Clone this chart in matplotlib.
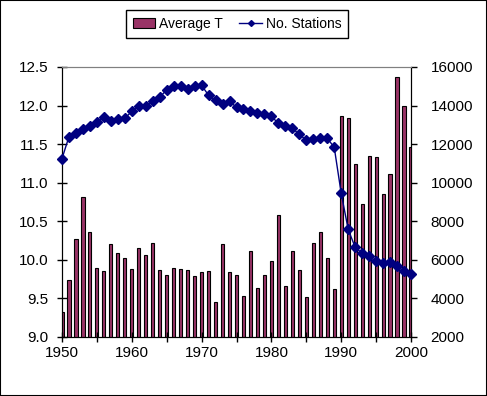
import numpy as np
import matplotlib
matplotlib.use("Agg")
import matplotlib.pyplot as plt
from matplotlib.patches import Rectangle
from matplotlib.lines import Line2D

plt.rcParams['font.family'] = ['Liberation Sans', 'DejaVu Sans']

years = np.arange(1950, 2001)

avg_t = [9.32, 9.74, 10.27, 10.81, 10.36, 9.90, 9.85, 10.20, 10.09, 10.02,
         9.88, 10.15, 10.06, 10.22, 9.87, 9.80, 9.89, 9.88, 9.87, 9.79,
         9.84, 9.85, 9.45, 10.21, 9.84, 9.81, 9.53, 10.12, 9.63, 9.81,
         9.99, 10.58, 9.66, 10.11, 9.87, 9.52, 10.22, 10.36, 10.02, 9.62,
         11.86, 11.84, 11.24, 10.72, 11.34, 11.33, 10.86, 11.11, 12.37, 11.99,
         11.46]

stations = [11250, 12390, 12590, 12770, 12930, 13130, 13390, 13180, 13290, 13340,
            13700, 13960, 14000, 14220, 14430, 14820, 15000, 15000, 14880, 15000,
            15050, 14530, 14270, 14070, 14220, 13910, 13810, 13700, 13600, 13550,
            13440, 13080, 12930, 12820, 12510, 12200, 12250, 12300, 12300, 11840,
            9450, 7580, 6650, 6340, 6180, 5920, 5820, 5870, 5670, 5410,
            5250]

bar_col = "#993366"
line_col = "#000080"

fig = plt.figure(figsize=(4.87, 3.96), dpi=100)
ax1 = fig.add_axes([62/487, 1-337/396, (411-62)/487, (337-67)/396])
ax2 = ax1.twinx()

ax1.bar(years, avg_t, width=0.45, color=bar_col, edgecolor="black", linewidth=0.8)
ax1.set_xlim(1950, 2000)
ax1.set_ylim(9.0, 12.5)
ax1.set_yticks(np.arange(9.0, 12.51, 0.5))
ax1.set_yticklabels(["%.1f" % v for v in np.arange(9.0, 12.51, 0.5)])
ax1.set_xticks(np.arange(1950, 2001, 5))
ax1.set_xticklabels([str(y) if y % 10 == 0 else "" for y in range(1950, 2001, 5)])

ax2.plot(years, stations, color=line_col, marker="D", markersize=5, linewidth=1,
         clip_on=False, zorder=5)
ax2.set_ylim(2000, 16000)
ax2.set_yticks(np.arange(2000, 16001, 2000))

for ax in (ax1, ax2):
    for s in ax.spines.values():
        s.set_color("black")
    ax.spines["top"].set_color("#808080")
    ax.tick_params(labelsize=11, width=1, length=4, colors="black")

ax1.tick_params(axis="y", direction="inout", length=7, pad=6)
ax1.tick_params(axis="x", direction="inout", length=7, pad=3)
ax2.tick_params(axis="y", direction="out", length=4, pad=10)
ax1.set_facecolor("white")

handles = [Rectangle((0, 0), 1, 1, facecolor=bar_col, edgecolor="black", linewidth=0.8),
           Line2D([], [], color=line_col, marker="D", markersize=3, linewidth=1)]
leg = fig.legend(handles, ["Average T", "No. Stations"], loc="center",
                 bbox_to_anchor=(237/487, 1-24/396), ncol=2, fontsize=10,
                 frameon=True, fancybox=False, edgecolor="black", framealpha=1,
                 handlelength=1.6, handletextpad=0.3, columnspacing=1.2,
                 borderpad=0.5)
leg.get_frame().set_linewidth(1)

fig.patches.append(Rectangle((0, 0), 1, 1, transform=fig.transFigure, fill=False,
                             edgecolor="black", linewidth=1.5))

fig.savefig("out.png", dpi=100)
